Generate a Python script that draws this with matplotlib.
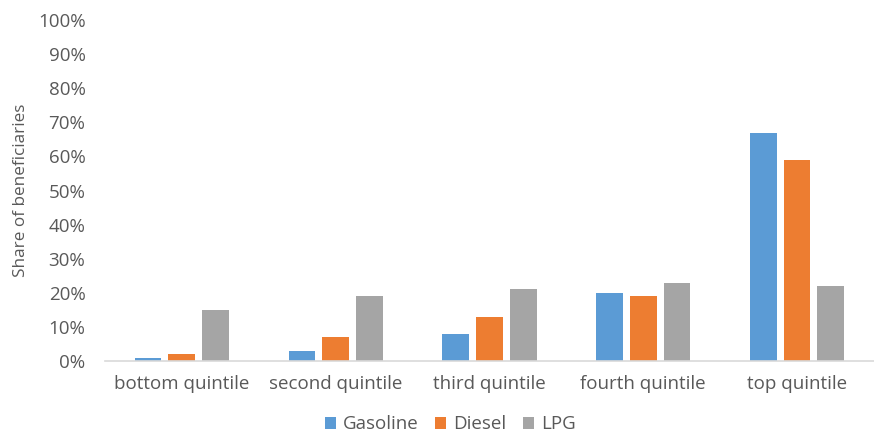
import numpy as np
import matplotlib.pyplot as plt
from matplotlib.ticker import PercentFormatter

plt.rcParams['font.family'] = ['Open Sans', 'DejaVu Sans']

# Share of beneficiaries by income quintile
quintiles = ['bottom quintile', 'second quintile', 'third quintile', 'fourth quintile', 'top quintile']
gasoline = [1, 3, 8, 20, 67]
diesel = [2, 7, 13, 19, 59]
lpg = [15, 19, 21, 23, 22]

series = [('Gasoline', gasoline, '#5B9BD5'),
          ('Diesel', diesel, '#ED7D31'),
          ('LPG', lpg, '#A5A5A5')]

fig = plt.figure(figsize=(8.74, 4.34), dpi=100)
ax = fig.add_axes([0.12, 0.168, 0.88, 0.786])

x = np.arange(len(quintiles))
width = 0.174
step = 0.219
for i, (name, vals, col) in enumerate(series):
    ax.bar(x + (i - 1) * step, vals, width, color=col, label=name)

ax.set_xlim(-0.5, len(quintiles) - 0.5)
ax.set_ylim(0, 100)
ax.set_yticks(range(0, 101, 10))
ax.yaxis.set_major_formatter(PercentFormatter(decimals=0))
ax.set_xticks(x)
ax.set_xticklabels(quintiles)

for s in ['top', 'right', 'left']:
    ax.spines[s].set_visible(False)
ax.spines['bottom'].set_color('#D9D9D9')
ax.spines['bottom'].set_linewidth(1.2)
ax.tick_params(axis='both', length=0, colors='#595959', labelsize=13.5)
ax.tick_params(axis='y', pad=14)
ax.tick_params(axis='x', pad=10)

ax.set_ylabel('Share of beneficiaries', fontsize=12.3, color='#595959', labelpad=6)

fig.legend(loc='center', bbox_to_anchor=(0.515, 0.022), ncol=3, frameon=False,
           fontsize=13.5, labelcolor='#595959', handlelength=0.6, handleheight=0.6,
           handletextpad=0.35, columnspacing=0.9)

fig.savefig('out.png', dpi=100)
